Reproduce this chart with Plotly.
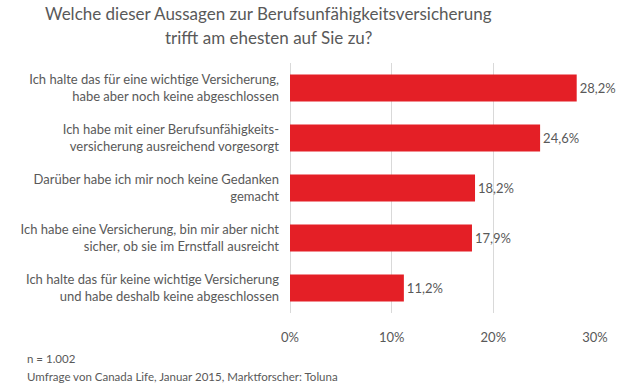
import plotly.graph_objects as go

categories = [
    "Ich halte das für eine wichtige Versicherung,<br>habe aber noch keine abgeschlossen",
    "Ich habe mit einer Berufsunfähigkeits-<br>versicherung ausreichend vorgesorgt",
    "Darüber habe ich mir noch keine Gedanken<br>gemacht",
    "Ich habe eine Versicherung, bin mir aber nicht<br>sicher, ob sie im Ernstfall ausreicht",
    "Ich halte das für keine wichtige Versicherung<br>und habe deshalb keine abgeschlossen",
]
values = [28.2, 24.6, 18.2, 17.9, 11.2]
value_labels = ["28,2%", "24,6%", "18,2%", "17,9%", "11,2%"]
tick_vals = [0, 10, 20, 30]
tick_text = ["0%", "10%", "20%", "30%"]
title_lines = ["Welche dieser Aussagen zur Berufsunfähigkeitsversicherung",
               "trifft am ehesten auf Sie zu?"]
footer_lines = ["n = 1.002", "Umfrage von Canada Life, Januar 2015, Marktforscher: Toluna"]

FONT = "Lato, 'Open Sans', sans-serif"
GREY = "#595959"

W, H = 621, 383
ML, MR, MT, MB = 290, 26, 63, 70
pw = W - ML - MR
ph = H - MT - MB

fig = go.Figure(go.Bar(
    x=values, y=categories, orientation="h",
    marker=dict(color="#E41F26", line=dict(width=0)),
    text=value_labels, textposition="outside", cliponaxis=False,
    textfont=dict(family=FONT, size=13, color=GREY),
    width=0.54,
))

fig.update_layout(
    width=W, height=H,
    margin=dict(l=ML, r=MR, t=MT, b=MB, autoexpand=False),
    paper_bgcolor="white", plot_bgcolor="white",
    showlegend=False,
    font=dict(family=FONT, color=GREY),
    xaxis=dict(range=[0, 30], tickvals=tick_vals, ticktext=tick_text,
               showgrid=True, gridcolor="#D9D9D9", gridwidth=1,
               zeroline=True, zerolinecolor="#D9D9D9", zerolinewidth=1,
               showline=False, ticks="", tickfont=dict(size=13, color=GREY, family=FONT),
               ticklabelstandoff=15, automargin=False),
    yaxis=dict(categoryorder="array", categoryarray=categories[::-1],
               showgrid=False, ticks="", showline=False,
               tickfont=dict(size=13, color=GREY, family=FONT),
               ticklabelstandoff=10, automargin=False),
)

def px_x(x):
    return (x - ML) / pw

def px_y(y):
    return 1 - (y - MT) / ph

for i, (line, yc) in enumerate(zip(title_lines, [13, 38])):
    fig.add_annotation(
        text=line, xref="paper", yref="paper", x=px_x(268), y=px_y(yc),
        xanchor="center", yanchor="middle", showarrow=False,
        font=dict(family=FONT, size=17, color=GREY),
    )
for line, yc in zip(footer_lines, [358, 376]):
    fig.add_annotation(
        text=line, xref="paper", yref="paper", x=px_x(25), y=px_y(yc),
        xanchor="left", yanchor="middle", showarrow=False,
        font=dict(family=FONT, size=11.5, color=GREY),
    )

fig.write_html("out.html", config={"displayModeBar": False},
               post_script="document.body.style.margin='0px';document.body.style.padding='0px';")
